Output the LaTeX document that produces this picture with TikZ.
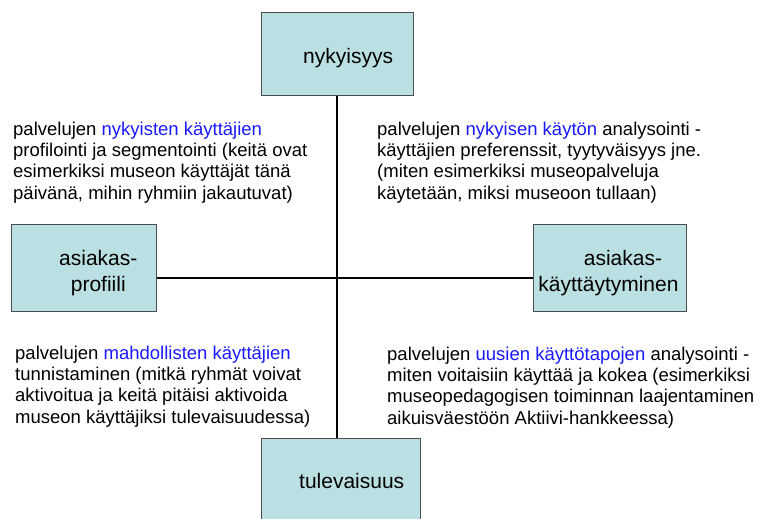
\documentclass[tikz,border=0pt]{standalone}
\usepackage{fontspec}
\setmainfont{Liberation Sans}
\definecolor{boxfill}{HTML}{BBE0E3}
\definecolor{boxline}{HTML}{4D4D4D}
\definecolor{hl}{RGB}{25,25,255}
\begin{document}
\begin{tikzpicture}[x=1pt,y=-1pt,
  panel/.style={draw=boxline, fill=boxfill, line width=1pt, rectangle, inner sep=0pt},
  title/.style={font=\fontsize{21}{26}\selectfont, inner sep=0pt, align=center},
  note/.style={font=\fontsize{18.5}{21.3}\selectfont, align=left, inner sep=0pt, anchor=north west},
  axis/.style={line width=1.6pt, black}]
\useasboundingbox (0,0) rectangle (764,519);

% the four boxes
\node[panel, minimum width=152pt, minimum height=83pt] (now) at (337,54.5) {};
\node[panel, minimum width=145pt, minimum height=87pt] (prof) at (83.5,267.5) {};
\node[panel, minimum width=153pt, minimum height=87pt] (beh) at (609.5,267.5) {};
\node[panel, minimum width=159pt, minimum height=92pt] (fut) at (340.5,484) {};

% box labels
\node[title, anchor=base west] (nowtxt) at (303,64) {nykyisyys};
\node[title, anchor=north] (proftxt) at (98.3,249.7) {asiakas-\\profiili};
\node[title, anchor=north] (behtxt) at (608.5,249.7) {\hspace*{29pt}asiakas-\\käyttäytyminen};
\node[title, anchor=base west] (futtxt) at (299,488) {tulevaisuus};

% the two axes
\coordinate (cross) at (337,278);
\draw[axis] (now.south -| cross) -- (fut.north -| cross);
\draw[axis] (prof.east |- cross) -- (beh.west |- cross);

% quadrant texts
\node[note] (tl) at (13,121.5) {palvelujen \textcolor{hl}{nykyisten käyttäjien}\\
  profilointi ja segmentointi (keitä ovat\\
  esimerkiksi museon käyttäjät tänä\\
  päivänä, mihin ryhmiin jakautuvat)};
\node[note] (tr) at (377,121.5) {palvelujen \textcolor{hl}{nykyisen käytön} analysointi -\\
  käyttäjien preferenssit, tyytyväisyys jne.\\
  (miten esimerkiksi museopalveluja\\
  käytetään, miksi museoon tullaan)};
\node[note] (bl) at (15,345.5) {palvelujen \textcolor{hl}{mahdollisten käyttäjien}\\
  tunnistaminen (mitkä ryhmät voivat\\
  aktivoitua ja keitä pitäisi aktivoida\\
  museon käyttäjiksi tulevaisuudessa)};
\node[note] (br) at (387,346.5) {palvelujen \textcolor{hl}{uusien käyttötapojen} analysointi -\\
  miten voitaisiin käyttää ja kokea (esimerkiksi\\
  museopedagogisen toiminnan laajentaminen\\
  aikuisväestöön Aktiivi-hankkeessa)};
\end{tikzpicture}
\end{document}
